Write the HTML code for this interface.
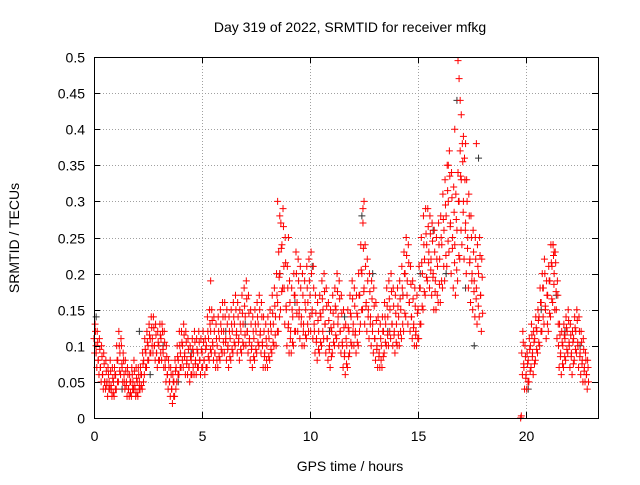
<!DOCTYPE html>
<html><head><meta charset="utf-8"><style>
html,body{margin:0;padding:0;background:#fff;}
svg text{font-family:"Liberation Sans",sans-serif;font-size:14px;fill:#000;}
</style></head><body>
<svg id="chart" width="640" height="480" xmlns="http://www.w3.org/2000/svg">
<rect x="0" y="0" width="640" height="480" fill="#fff"/>
<text x="350" y="32" text-anchor="middle">Day 319 of 2022, SRMTID for receiver mfkg</text>
<text transform="translate(19,238) rotate(-90)" text-anchor="middle">SRMTID / TECUs</text>
<text x="350" y="471" text-anchor="middle">GPS time / hours</text>
<g id="grid"></g><g id="marks"></g><g id="axes"></g>
</svg>
<script>
const xTicks=[0,5,10,15,20];
const yTicks=[0,0.05,0.1,0.15,0.2,0.25,0.3,0.35,0.4,0.45,0.5];
const yTickLabels=["0","0.05","0.1","0.15","0.2","0.25","0.3","0.35","0.4","0.45","0.5"];
const segStarts=[0,19.8];
const midA=[0.11,0.09,0.08,0.07,0.06,0.05,0.05,0.05,0.04,0.05,
0.06,0.08,0.09,0.07,0.05,0.05,0.04,0.05,0.05,0.04,
0.05,0.05,0.06,0.08,0.09,0.10,0.11,0.11,0.10,0.09,
0.10,0.11,0.09,0.07,0.06,0.05,0.04,0.05,0.07,0.08,
0.09,0.10,0.09,0.08,0.07,0.08,0.09,0.08,0.09,0.08,
0.09,0.08,0.10,0.11,0.12,0.10,0.09,0.10,0.11,0.12,
0.12,0.11,0.10,0.11,0.12,0.13,0.12,0.11,0.12,0.13,
0.14,0.12,0.11,0.10,0.11,0.12,0.13,0.12,0.10,0.09,
0.10,0.11,0.12,0.13,0.14,0.16,0.20,0.24,0.18,0.15,
0.13,0.12,0.14,0.17,0.16,0.15,0.14,0.13,0.15,0.16,
0.17,0.15,0.12,0.11,0.12,0.14,0.15,0.13,0.11,0.10,
0.12,0.13,0.15,0.14,0.12,0.10,0.09,0.10,0.12,0.14,
0.13,0.12,0.14,0.17,0.20,0.18,0.16,0.15,0.14,0.13,
0.11,0.10,0.09,0.10,0.12,0.13,0.14,0.15,0.13,0.12,
0.13,0.14,0.15,0.17,0.20,0.19,0.16,0.14,0.13,0.12,
0.15,0.18,0.20,0.22,0.24,0.23,0.22,0.20,0.19,0.21,
0.22,0.24,0.26,0.28,0.30,0.27,0.25,0.24,0.26,0.30,
0.33,0.30,0.27,0.25,0.22,0.20,0.19,0.18,0.20,0.17];
const hiA=[0.13,0.12,0.11,0.10,0.09,0.08,0.07,0.08,0.07,0.07,
0.10,0.12,0.11,0.09,0.08,0.07,0.06,0.07,0.08,0.07,
0.07,0.07,0.09,0.11,0.12,0.13,0.14,0.14,0.13,0.12,
0.13,0.13,0.12,0.10,0.08,0.07,0.06,0.08,0.10,0.12,
0.12,0.13,0.12,0.11,0.10,0.11,0.12,0.11,0.12,0.11,
0.12,0.11,0.14,0.15,0.15,0.14,0.13,0.14,0.15,0.16,
0.16,0.15,0.14,0.15,0.16,0.17,0.16,0.15,0.17,0.18,
0.19,0.17,0.15,0.14,0.15,0.16,0.17,0.16,0.14,0.13,
0.14,0.15,0.17,0.18,0.20,0.23,0.27,0.29,0.25,0.21,
0.19,0.18,0.20,0.23,0.22,0.21,0.20,0.19,0.21,0.22,
0.23,0.21,0.17,0.16,0.17,0.19,0.20,0.18,0.16,0.15,
0.17,0.18,0.20,0.19,0.17,0.15,0.13,0.15,0.17,0.19,
0.18,0.17,0.20,0.24,0.27,0.24,0.22,0.20,0.19,0.18,
0.16,0.14,0.13,0.14,0.16,0.18,0.19,0.20,0.18,0.17,
0.18,0.19,0.21,0.23,0.25,0.24,0.21,0.19,0.18,0.17,
0.21,0.25,0.28,0.29,0.29,0.28,0.27,0.26,0.25,0.27,
0.28,0.31,0.33,0.35,0.37,0.34,0.32,0.31,0.34,0.37,
0.38,0.36,0.33,0.31,0.28,0.26,0.25,0.24,0.25,0.22];
const loA=[0.09,0.07,0.06,0.05,0.04,0.04,0.03,0.04,0.03,0.03,
0.04,0.05,0.06,0.05,0.04,0.03,0.03,0.03,0.04,0.03,
0.03,0.04,0.04,0.06,0.07,0.08,0.09,0.09,0.08,0.07,
0.08,0.08,0.07,0.05,0.04,0.03,0.02,0.03,0.05,0.06,
0.07,0.07,0.06,0.06,0.05,0.06,0.06,0.06,0.07,0.06,
0.07,0.06,0.07,0.08,0.09,0.08,0.07,0.07,0.08,0.09,
0.09,0.08,0.07,0.08,0.09,0.10,0.09,0.08,0.09,0.10,
0.10,0.09,0.08,0.07,0.08,0.09,0.10,0.09,0.07,0.07,
0.07,0.08,0.09,0.10,0.10,0.12,0.15,0.18,0.13,0.10,
0.09,0.09,0.10,0.12,0.12,0.11,0.10,0.10,0.11,0.12,
0.12,0.11,0.09,0.08,0.09,0.10,0.11,0.09,0.08,0.07,
0.09,0.10,0.11,0.10,0.09,0.07,0.06,0.07,0.09,0.10,
0.10,0.09,0.10,0.13,0.15,0.13,0.12,0.11,0.10,0.09,
0.08,0.07,0.07,0.07,0.09,0.10,0.10,0.11,0.10,0.09,
0.10,0.10,0.11,0.12,0.14,0.13,0.12,0.11,0.10,0.10,
0.11,0.13,0.15,0.17,0.19,0.18,0.17,0.15,0.15,0.16,
0.16,0.18,0.19,0.21,0.23,0.20,0.18,0.17,0.19,0.22,
0.24,0.22,0.20,0.18,0.16,0.15,0.14,0.13,0.14,0.12];
const midB=[0.09,0.07,0.06,0.08,0.10,0.09,0.11,0.12,0.14,0.16,0.18,0.15,0.17,0.19,0.21,0.20,0.15,0.10,0.09,0.10,0.11,0.12,0.10,0.09,0.11,0.12,0.10,0.09,0.08,0.07,0.06];
const hiB=[0.12,0.10,0.09,0.11,0.13,0.12,0.14,0.15,0.18,0.20,0.22,0.19,0.21,0.24,0.24,0.23,0.19,0.13,0.12,0.13,0.14,0.15,0.13,0.12,0.14,0.15,0.14,0.12,0.11,0.09,0.08];
const loB=[0.06,0.04,0.04,0.05,0.07,0.06,0.08,0.09,0.10,0.12,0.13,0.11,0.12,0.14,0.16,0.15,0.11,0.07,0.06,0.07,0.08,0.09,0.07,0.06,0.08,0.09,0.07,0.06,0.05,0.05,0.04];
const extraT=[8.5,8.6,9.0,12.45,12.5,5.4,16.7,16.85,16.9,16.95,17.0,17.1,17.2,17.7,16.4,21.25,21.3,19.75,19.78];
const extraV=[0.30,0.28,0.25,0.29,0.30,0.19,0.40,0.495,0.47,0.44,0.42,0.39,0.38,0.38,0.35,0.24,0.23,0.0,0.003];
const blackT=[0.1,0.6,1.3,2.1,2.6,3.2,3.9,4.5,5.2,6.1,7.0,7.8,8.6,9.3,10.1,10.9,11.6,12.4,12.9,13.6,14.3,15.1,15.7,16.3,16.8,17.2,17.6,17.8,20.1,20.7,21.4,21.8,22.5];
const blackV=[0.14,0.05,0.04,0.12,0.06,0.10,0.05,0.09,0.07,0.12,0.13,0.10,0.20,0.16,0.21,0.12,0.14,0.28,0.20,0.12,0.17,0.20,0.26,0.20,0.44,0.18,0.10,0.36,0.04,0.15,0.17,0.12,0.10];

const L=94,R=598,T=57,B=418,XMAX=23.33,YMAX=0.5;
const xs=v=>L+(R-L)*v/XMAX, ys=v=>B-(B-T)*v/YMAX;
const NS="http://www.w3.org/2000/svg";
const grid=document.getElementById('grid'),marks=document.getElementById('marks'),axes=document.getElementById('axes');
function ln(g,x1,y1,x2,y2,st,dash){const e=document.createElementNS(NS,'line');e.setAttribute('x1',x1);e.setAttribute('y1',y1);e.setAttribute('x2',x2);e.setAttribute('y2',y2);e.setAttribute('stroke',st);if(dash)e.setAttribute('stroke-dasharray',dash);g.appendChild(e);return e;}
yTicks.forEach((v,i)=>{const y=Math.round(ys(v))+0.5;
 if(i>0&&i<yTicks.length-1){const gl=ln(grid,L,y,R,y,'#a0a0a0','1,2');
 
 }
 ln(axes,L,y,L+6,y,'#000');ln(axes,R,y,R-6,y,'#000');
 const t=document.createElementNS(NS,'text');t.setAttribute('x',L-9);t.setAttribute('y',y+5);t.setAttribute('text-anchor','end');t.textContent=yTickLabels[i];
 
 
 axes.appendChild(t);});
xTicks.forEach(v=>{const x=Math.round(xs(v))+0.5;
 if(v>0){const gl=ln(grid,x,T,x,B,'#a0a0a0','1,2');
 
 }
 ln(axes,x,B,x,B-6,'#000');ln(axes,x,T,x,T+6,'#000');
 const t=document.createElementNS(NS,'text');t.setAttribute('x',x);t.setAttribute('y',B+23);t.setAttribute('text-anchor','middle');t.textContent=v;
 
 
 axes.appendChild(t);});
const fr=document.createElementNS(NS,'rect');fr.setAttribute('x',L+0.5);fr.setAttribute('y',T+0.5);fr.setAttribute('width',R-L);fr.setAttribute('height',B-T);fr.setAttribute('fill','none');fr.setAttribute('stroke','#000');


axes.appendChild(fr);
function plus(t,v,col){const x=xs(t),y=ys(v);const p=document.createElementNS(NS,'path');
 p.setAttribute('d',`M${x-3.5},${y}H${x+3.5}M${x},${y-3.5}V${y+3.5}`);p.setAttribute('stroke',col);p.setAttribute('stroke-width','1');
 
 
 marks.appendChild(p);}
blackT.forEach((t,i)=>plus(t,blackV[i],'#333'));
function series(start,m,h,l){m.forEach((v,i)=>{const t=start+i*0.1;
 plus(t,v,'#f00');plus(t+0.05,h[i],'#f00');plus(t+0.03,l[i],'#f00');
 plus(t+0.07,(v+h[i])/2,'#f00');plus(t+0.09,(v+l[i])/2,'#f00');});}
series(segStarts[0],midA,hiA,loA);
series(segStarts[1],midB,hiB,loB);
extraT.forEach((t,i)=>plus(t,extraV[i],'#f00'));
</script>
</body></html>
